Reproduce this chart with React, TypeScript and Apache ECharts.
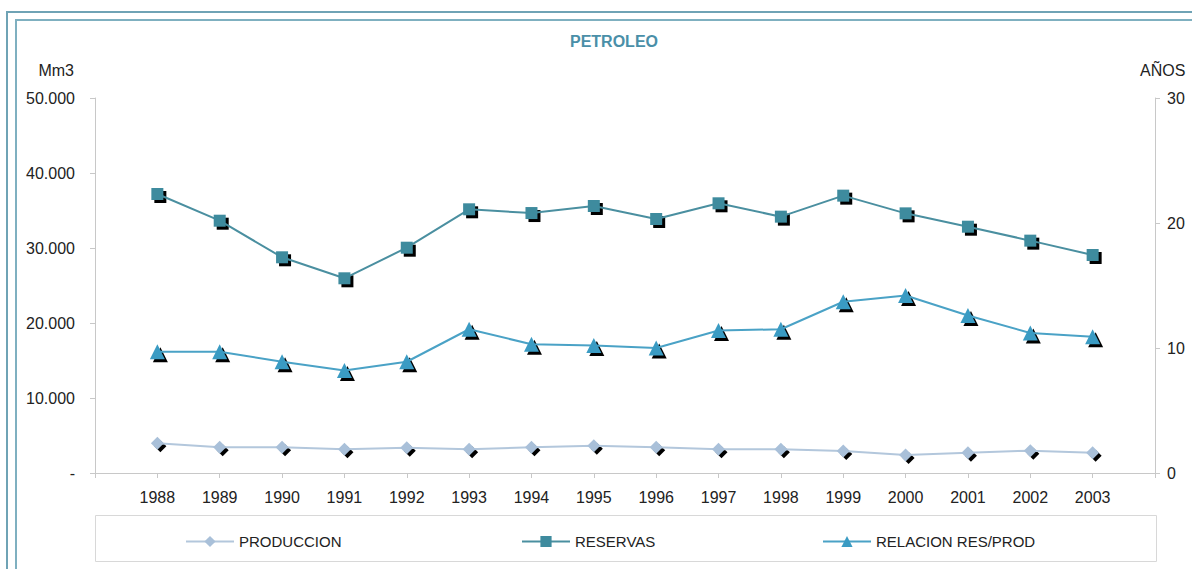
import React, { useEffect, useRef } from "react";
import * as echarts from "echarts";

const years = [1988, 1989, 1990, 1991, 1992, 1993, 1994, 1995, 1996, 1997, 1998, 1999, 2000, 2001, 2002, 2003];
const produccion = [3960, 3420, 3420, 3160, 3380, 3160, 3420, 3640, 3420, 3160, 3160, 2930, 2400, 2710, 2980, 2710];
const reservas = [37200, 33640, 28760, 25960, 30040, 35160, 34660, 35600, 33870, 35960, 34180, 36980, 34620, 32840, 30980, 29070];
const relacion = [9.7, 9.7, 8.9, 8.2, 8.9, 11.5, 10.3, 10.2, 10.0, 11.4, 11.5, 13.7, 14.2, 12.6, 11.2, 10.9];
const leftTicks = [0, 10000, 20000, 30000, 40000, 50000];
const rightTicks = [0, 10, 20, 30];

const FONT = '"Liberation Sans", Arial, sans-serif';
const C_PROD = "#a9c0d9";
const C_RES = "#3e8b9e";
const C_REL = "#3a9bc3";

const fmtLeft = (v: number) => {
  if (v === 0) return "-";
  const s = String(Math.round(v));
  return s.replace(/\B(?=(\d{3})+(?!\d))/g, ".");
};

export default function App() {
  const ref = useRef<HTMLDivElement>(null);
  useEffect(() => {
    if (!ref.current) return;
    const chart = echarts.init(ref.current, null, { renderer: "svg" });
    const pts = (arr: number[]) => years.map((y, i) => [y, arr[i]]);
    const shadow = (name: string, arr: number[], symbol: string, size: number, yAxisIndex: number) => ({
      name: name + "_sh",
      type: "line",
      yAxisIndex,
      data: pts(arr),
      symbol,
      symbolSize: size,
      symbolOffset: [3, 3],
      showAllSymbol: true,
      lineStyle: { width: 0, opacity: 0 },
      itemStyle: { color: "#000", opacity: 1 },
      silent: true,
      z: 2,
    });
    const main = (name: string, arr: number[], symbol: string, size: number, yAxisIndex: number, color: string, lineColor: string) => ({
      name,
      type: "line",
      yAxisIndex,
      data: pts(arr),
      symbol,
      symbolSize: size,
      showAllSymbol: true,
      lineStyle: { width: 2, color: lineColor },
      itemStyle: { color, borderColor: color, borderWidth: 0 },
      z: 3,
    });
    const legendBase = {
      top: 534,
      padding: 0,
      itemWidth: 48,
      itemHeight: 14,
      textStyle: { color: "#222", fontSize: 15, fontFamily: FONT },
    };
    chart.setOption({
      animation: false,
      backgroundColor: "#ffffff",
      textStyle: { fontFamily: FONT },
      grid: { left: 95, right: 37, top: 98, bottom: 96, containLabel: false },
      xAxis: {
        type: "value",
        min: 1987,
        max: 2004,
        interval: 1,
        axisLine: { show: true, lineStyle: { color: "#c8c8c8", width: 1 } },
        axisTick: { show: true, length: 5, lineStyle: { color: "#c8c8c8" } },
        splitLine: { show: false },
        axisLabel: {
          color: "#222",
          fontSize: 16,
          fontFamily: FONT,
          margin: 16,
          formatter: (v: number) => (v >= years[0] && v <= years[years.length - 1] ? String(v) : ""),
        },
      },
      yAxis: [
        {
          type: "value",
          min: leftTicks[0],
          max: leftTicks[leftTicks.length - 1],
          interval: 10000,
          position: "left",
          axisLine: { show: true, lineStyle: { color: "#c8c8c8" } },
          axisTick: { show: true, length: 5, lineStyle: { color: "#c8c8c8" } },
          splitLine: { show: false },
          axisLabel: { color: "#222", fontSize: 16, fontFamily: FONT, margin: 20, formatter: fmtLeft },
        },
        {
          type: "value",
          min: rightTicks[0],
          max: rightTicks[rightTicks.length - 1],
          interval: 10,
          position: "right",
          axisLine: { show: true, lineStyle: { color: "#c8c8c8" } },
          axisTick: { show: true, length: 5, lineStyle: { color: "#c8c8c8" } },
          splitLine: { show: false },
          axisLabel: { color: "#222", fontSize: 16, fontFamily: FONT, margin: 12 },
        },
      ],
      legend: [
        { ...legendBase, data: ["PRODUCCION"], left: 185 },
        { ...legendBase, data: ["RESERVAS"], left: 521 },
        { ...legendBase, data: ["RELACION RES/PROD"], left: 822 },
      ],
      graphic: [
        {
          type: "rect",
          shape: { x: 7, y: 12, width: 1200, height: 570 },
          style: { fill: "none", stroke: "#6fa3b5", lineWidth: 2 },
          silent: true,
        },
        {
          type: "rect",
          shape: { x: 16, y: 20, width: 1200, height: 570 },
          style: { fill: "none", stroke: "#7fb0c0", lineWidth: 2 },
          silent: true,
        },
        {
          type: "rect",
          shape: { x: 95.5, y: 515.5, width: 1061, height: 46 },
          style: { fill: "none", stroke: "#d8d8d8", lineWidth: 1 },
          silent: true,
        },
        {
          type: "text",
          x: 614,
          y: 41,
          style: {
            text: "PETROLEO",
            fill: "#4a8fa8",
            font: `bold 16px ${FONT}`,
            textAlign: "center",
            textVerticalAlign: "middle",
          },
        },
        {
          type: "text",
          x: 74,
          y: 70,
          style: {
            text: "Mm3",
            fill: "#222",
            font: `16px ${FONT}`,
            textAlign: "right",
            textVerticalAlign: "middle",
          },
        },
        {
          type: "text",
          x: 1140,
          y: 70,
          style: {
            text: "AÑOS",
            fill: "#222",
            font: `16px ${FONT}`,
            textAlign: "left",
            textVerticalAlign: "middle",
          },
        },
      ],
      series: [
        shadow("PRODUCCION", produccion, "diamond", 12, 0),
        shadow("RESERVAS", reservas, "rect", 12, 0),
        shadow("RELACION RES/PROD", relacion, "triangle", 15, 1),
        main("PRODUCCION", produccion, "diamond", 13, 0, C_PROD, "#b3c7dc"),
        main("RESERVAS", reservas, "rect", 12, 0, C_RES, "#4a8fa0"),
        main("RELACION RES/PROD", relacion, "triangle", 15, 1, C_REL, "#4aa2c6"),
      ],
    });
    return () => chart.dispose();
  }, []);
  return <div ref={ref} style={{ position: "absolute", left: 0, top: 0, width: 1192, height: 569 }} />;
}
